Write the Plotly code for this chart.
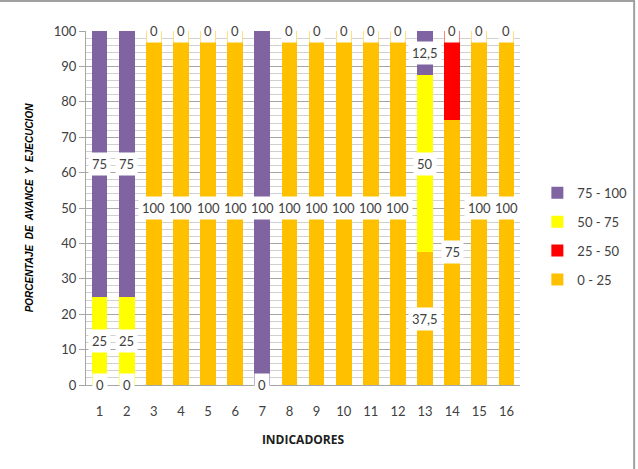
import plotly.graph_objects as go

categories = [str(i) for i in range(1, 17)]
s_0_25   = [0, 0, 100, 100, 100, 100, 0, 100, 100, 100, 100, 100, 37.5, 75, 100, 100]
s_25_50  = [0, 0, 0, 0, 0, 0, 0, 0, 0, 0, 0, 0, 0, 25, 0, 0]
s_50_75  = [25, 25, 0, 0, 0, 0, 0, 0, 0, 0, 0, 0, 50, 0, 0, 0]
s_75_100 = [75, 75, 0, 0, 0, 0, 100, 0, 0, 0, 0, 0, 12.5, 0, 0, 0]

series_names = ["0 - 25", "25 - 50", "50 - 75", "75 - 100"]
series_vals = [s_0_25, s_25_50, s_50_75, s_75_100]
colors = ["#FFC000", "#FF0000", "#FFFF00", "#8064A2"]
# which series show data labels: orange always, red never, yellow when >0, purple always
label_rule = ["always", "never", "positive", "always"]

fig = go.Figure()
for k, (name, vals, col) in enumerate(zip(series_names, series_vals, colors)):
    fig.add_trace(go.Bar(
        x=categories, y=vals, name=name, marker_color=col,
        marker_line_width=0, width=0.58, legendgroup=name,
        legendrank=1000 - k,
    ))

def fmt(v):
    s = ("%g" % v)
    return s.replace(".", ",")

annotations = []
for i, cat in enumerate(categories):
    base = 0
    for k, vals in enumerate(series_vals):
        v = vals[i]
        rule = label_rule[k]
        show = rule == "always" or (rule == "positive" and v > 0)
        if show:
            annotations.append(dict(
                x=i, y=base + v / 2, xref="x", yref="y", text=fmt(v),
                showarrow=False, bgcolor="white", borderpad=3,
                font=dict(family="Lato, Liberation Sans", size=13, color="#404040"),
            ))
        base += v

fig.update_layout(
    width=638, height=469,
    margin=dict(l=86, r=118, t=31, b=84, autoexpand=False),
    paper_bgcolor="white", plot_bgcolor="white",
    barmode="stack", bargap=0.42,
    annotations=annotations,
    showlegend=True,
    legend=dict(
        x=1.04, y=0.42, xanchor="left", yanchor="middle",
        traceorder="grouped", tracegroupgap=9,
        font=dict(family="Lato, Liberation Sans", size=13, color="#404040"),
        itemwidth=30,
    ),
    xaxis=dict(
        type="category", range=[-0.5, 15.5],
        showgrid=False, showline=True, linecolor="#A6A6A6", linewidth=1,
        ticks="outside", ticklen=14, tickcolor="rgba(0,0,0,0)",
        tickfont=dict(family="Lato, Liberation Sans", size=13, color="#404040"),
        title=dict(text="<b>INDICADORES</b>", standoff=18,
                   font=dict(family="Open Sans, Liberation Sans", size=12, color="#202020")),
    ),
    yaxis=dict(
        range=[0, 100], dtick=10, tick0=0,
        showgrid=True, gridcolor="#A6A6A6", gridwidth=1,
        minor=dict(dtick=2, showgrid=True, gridcolor="#D0D0D0", gridwidth=1),
        showline=True, linecolor="#A6A6A6", linewidth=1,
        ticks="outside", ticklen=6, tickcolor="#A6A6A6",
        tickfont=dict(family="Lato, Liberation Sans", size=13, color="#404040"),
        title=dict(text="<b><i>PORCENTAJE  DE  AVANCE  Y  EJECUCION</i></b>", standoff=18,
                   font=dict(family="Liberation Sans", size=10, color="#000000")),
    ),
    shapes=[
        dict(type="line", xref="paper", yref="paper", x0=-0.3, x1=1.265, y0=1.085, y1=1.085,
             line=dict(color="#A0A0A0", width=2)),
        dict(type="line", xref="paper", yref="paper", x0=1.263, x1=1.263, y0=-0.25, y1=1.085,
             line=dict(color="#A0A0A0", width=2)),
    ],
)

fig.write_html("out.html")
